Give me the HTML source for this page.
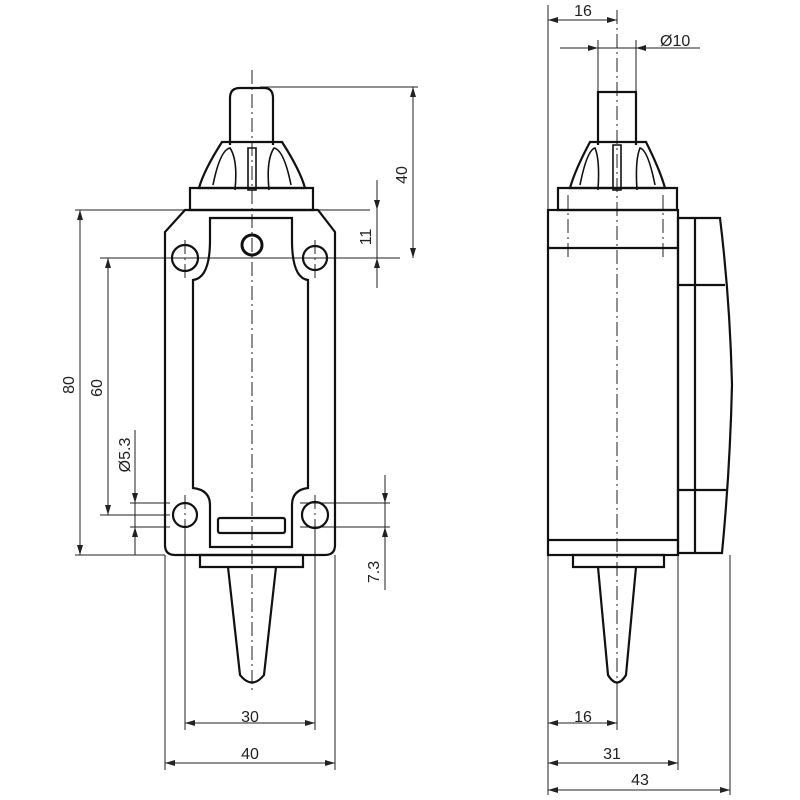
<!DOCTYPE html>
<html><head><style>body{margin:0;background:#fff}svg{display:block}text{font-family:"Liberation Sans",sans-serif;font-size:16px;fill:#222}</style></head><body>
<svg width="800" height="800" viewBox="0 0 800 800" xmlns="http://www.w3.org/2000/svg">
<g stroke="#222" fill="none" stroke-width="1">
<path d="M252 70V690M617 10V690M185 240V280M315 240V280M185 495V540M315 495V540M568 195V260M663 195V260" stroke-dasharray="14 4 2 4"/>
<path d="M75 210H370M100 258H400M260 87H418M130 503H170M130 527H170M100 515H170M300 503H390M300 527H390M165 555V770M335 555V770M185 530V730M315 530V730M75 555H165"/>
<path d="M80 210V555M108 258V515M413 87V258M377 180V288M135 430V555M385 475V590M185 723H315M165 763H335"/>
<path d="M548 5V795M730 555V795M678 555V770M617 690V730M560 48H700M598 40V92M636 40V92"/>
<path d="M548 20H617M548 723H617M548 763H678M548 790H730"/>
</g>
<g fill="#222">
<path d="M80 210l-3 10h6zM80 555l-3 -10h6zM108 258l-3 10h6zM108 515l-3 -10h6zM413 87l-3 10h6zM413 258l-3 -10h6z"/>
<path d="M377 210l-3 -10h6zM377 258l-3 10h6zM135 503l-3 -10h6zM135 527l-3 10h6zM385 503l-3 -10h6zM385 527l-3 10h6z"/>
<path d="M185 723l10 -3v6zM315 723l-10 -3v6zM165 763l10 -3v6zM335 763l-10 -3v6z"/>
<path d="M548 20l10 -3v6zM617 20l-10 -3v6zM548 723l10 -3v6zM617 723l-10 -3v6zM548 763l10 -3v6zM678 763l-10 -3v6zM548 790l10 -3v6zM730 790l-10 -3v6z"/>
<path d="M598 48l-10 -3v6zM636 48l10 -3v6z"/>
</g>
<g stroke="#111" fill="none" stroke-width="2.2">
<path d="M185 210H318L335 232V545Q335 555 325 555H175Q165 555 165 545V232Z"/>
<path d="M210 218H292V240Q292 278 308 280V488Q292 490 292 505V547H210V505Q210 490 193 488V280Q210 278 210 240Z"/>
<circle cx="185" cy="258" r="13"/><circle cx="315" cy="258" r="12"/><circle cx="185" cy="515" r="12"/><circle cx="315" cy="515" r="13"/>
<circle cx="252" cy="245" r="10" stroke-width="3"/>
<rect x="218" y="518" width="67" height="15" rx="2"/>
<path d="M230 145V98Q230 88 240 88H264Q273 88 273 98V145"/>
<path d="M222 142H282Q300 170 305 188H199Q204 170 222 142Z"/>
<path d="M190 188H313V210H190Z"/>
<path d="M213 185Q220 150 230 148Q238 160 235 190M291 185Q284 150 274 148Q266 160 269 190M248 148H256V190H248Z" stroke-width="1.6"/>
<path d="M200 555H303V567H200ZM228 567L240 675Q252 690 264 675L276 567"/>
<rect x="548" y="210" width="130" height="345"/>
<path d="M548 248H678M548 540H678"/>
<path d="M598 145V92H636V145"/>
<path d="M590 142H646Q660 170 665 188H570Q575 170 590 142Z"/>
<path d="M558 188H677V210H558Z"/>
<path d="M580 185Q587 150 595 148Q600 160 598 190M655 185Q648 150 640 148Q635 160 637 190M613 145H621V190H613Z" stroke-width="1.6"/>
<path d="M678 218H720Q730 300 732 385Q730 470 722 553H678ZM695 218V553M678 285H725M678 490H726"/>
<path d="M573 555H664V567H573ZM598 567L608 675Q617 690 626 675L636 567"/>
</g>
<text x="250" y="722" text-anchor="middle">30</text>
<text x="250" y="759" text-anchor="middle">40</text>
<text x="583" y="16" text-anchor="middle">16</text>
<text x="660" y="46">Ø10</text>
<text x="583" y="722" text-anchor="middle">16</text>
<text x="612" y="759" text-anchor="middle">31</text>
<text x="640" y="785" text-anchor="middle">43</text>
<text transform="translate(74,385) rotate(-90)" text-anchor="middle">80</text>
<text transform="translate(102,388) rotate(-90)" text-anchor="middle">60</text>
<text transform="translate(130,455) rotate(-90)" text-anchor="middle">Ø5.3</text>
<text transform="translate(407,175) rotate(-90)" text-anchor="middle">40</text>
<text transform="translate(371,237) rotate(-90)" text-anchor="middle">11</text>
<text transform="translate(379,572) rotate(-90)" text-anchor="middle">7.3</text>
</svg>
</body></html>
